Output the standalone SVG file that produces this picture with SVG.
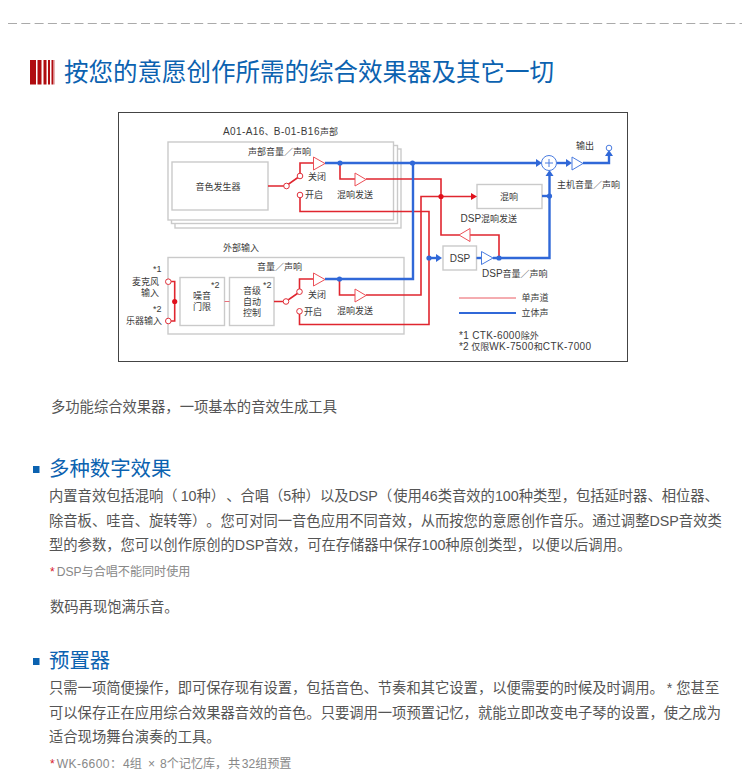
<svg xmlns="http://www.w3.org/2000/svg" width="750" height="780" viewBox="0 0 750 780">
<style>
text{font-family:"Liberation Sans","Noto Sans CJK SC",sans-serif;text-spacing-trim:space-all}
.d{font-size:9px;fill:#3a3a3a}
.d tspan{font-size:10px}
.d tspan.s{font-size:9px}
.c{text-anchor:middle}
.box{fill:#fff;stroke:#cacaca;stroke-width:1.4}
.r{fill:none;stroke:#e0262f;stroke-width:1.6}
.b{fill:none;stroke:#3068d8;stroke-width:2.4}
.tr{fill:#fff;stroke:#ec5058;stroke-width:1}
.tb{fill:#fff;stroke:#4a7ce0;stroke-width:1}
.or{fill:#fff;stroke:#e0303a;stroke-width:1}
.ob{fill:#fff;stroke:#4a7ce0;stroke-width:1}
.dr{fill:#e0101c}
.db{fill:#3068d8}
.body{font-size:14.3px;fill:#555}
.h{font-size:20.400px;fill:#0b62b0}
.note{font-size:12.100px;fill:#888}
.star{fill:#d8202c}
</style>
<line x1="8" y1="23.500" x2="742" y2="23.500" stroke="#aaa" stroke-width="1" stroke-dasharray="9 4.300"/>
<g id="title-mark" fill="#b00c10"><rect x="30" y="60" width="6" height="24.500"/><rect x="37.500" y="60" width="4" height="24.500"/><rect x="43.500" y="60" width="3" height="24.500"/><rect x="48" y="60" width="2" height="24.500"/><rect x="51.500" y="60" width="1.500" height="24.500"/><rect x="53.500" y="60" width="0.800" height="24.500"/></g>
<text x="64" y="81" font-size="24.500" fill="#0b62b0">按您的意愿创作所需的综合效果器及其它一切</text>
<rect x="118.500" y="112.500" width="509" height="249" fill="#fff" stroke="#444" stroke-width="1"/>
<text class="d" x="223" y="135"><tspan letter-spacing=".4">A01-A16</tspan>、<tspan letter-spacing=".5">B-01-B16</tspan>声部</text>
<g id="part-stack">
<rect class="box" x="175" y="149" width="226" height="79"/>
<rect class="box" x="171.500" y="145.500" width="226" height="78"/>
<rect class="box" x="168" y="142" width="225.500" height="78"/>
</g>
<text class="d" x="248" y="155">声部音量／声响</text>
<g id="tone-gen"><rect class="box" x="172" y="162" width="96" height="48"/><text class="d c" x="218" y="190">音色发生器</text></g>
<g id="external">
<rect class="box" x="168" y="257.500" width="236" height="76.500"/>
<text class="d" x="223" y="251">外部输入</text>
<text class="d" x="257" y="270">音量／声响</text>
</g>
<g id="gate"><rect class="box" x="180" y="277.500" width="44.500" height="48"/><text class="d c" x="202" y="299">噪音</text><text class="d c" x="202" y="310">门限</text><text class="d" x="211" y="288">*2</text></g>
<g id="agc"><rect class="box" x="229.500" y="277.500" width="44.500" height="48"/><text class="d c" x="252" y="294">音级</text><text class="d c" x="252" y="305">自动</text><text class="d c" x="252" y="316">控制</text><text class="d" x="263" y="288">*2</text></g>
<g id="reverb"><rect class="box" x="477" y="184.500" width="65" height="24"/><text class="d c" x="509" y="200">混响</text></g>
<g id="dsp"><rect class="box" x="443" y="246" width="33.500" height="24"/><text x="460" y="262" font-size="10" fill="#3a3a3a" class="c">DSP</text></g>
<g id="connectors">
<path class="r" d="M268 186H286L300 176V163H314"/>
<path class="r" d="M340 163V179H355"/>
<path class="r" d="M366 179H441V235H460"/>
<path class="r" d="M300 195V211.500H429V324.500H299.500V311"/>
<path class="r" d="M274 301.500H286L299.500 292V279H314"/>
<path class="r" d="M339.500 279V295H355"/>
<path class="r" d="M366 295H421V196.500H472"/>
<path class="r" d="M470 235H499V258"/>
<path class="r" d="M171 281.500H174.700V321H171"/>
<path d="M224.500 301.500H229.500" stroke="#e8707a" stroke-width="1" fill="none"/>
<path class="b" d="M325 163H536"/>
<path class="b" d="M325 279H413V163"/>
<path class="b" d="M429 258H437"/>
<path class="b" d="M476.500 258H482"/>
<path class="b" d="M493 258H549.500V172"/>
<path class="b" d="M542 196H549"/>
<path class="b" d="M557 163H568"/>
<path class="b" d="M583 163H609V155"/>
<path d="M536 159l6 4-6 4z" class="db"/>
<path d="M566 159l6 4-6 4z" class="db"/>
<path d="M471 193l6 3.500-6 3.500z" class="dr"/>
<path d="M436 254l6 4-6 4z" class="db"/>
<path d="M545.500 176l4-6 4 6z" class="db"/>
<path d="M605 156l4-6 4 6z" class="db"/>
<circle class="dr" cx="441" cy="196.500" r="2.600"/>
<circle class="dr" cx="174.700" cy="301.500" r="2.600"/>
<circle class="db" cx="340" cy="163" r="2.600"/>
<circle class="db" cx="339.500" cy="279" r="2.600"/>
<circle class="db" cx="412.500" cy="163" r="2.600"/>
<circle class="db" cx="429" cy="258" r="2.600"/>
<circle class="db" cx="499" cy="258" r="2.600"/>
<circle class="db" cx="549.500" cy="196" r="2.600"/>
<polygon class="tr" points="313.500,157 325,163.500 313.500,170"/>
<polygon class="tr" points="355,173 366,179.500 355,186"/>
<polygon class="tr" points="313.500,273 325,279.500 313.500,286"/>
<polygon class="tr" points="355,289 366,295.500 355,302"/>
<polygon class="tr" points="470,228.500 459,235 470,241.500"/>
<polygon class="tb" points="481.500,251.500 493,258 481.500,264.500"/>
<polygon class="tb" points="572,157 583,163.500 572,170"/>
<circle class="or" cx="286.500" cy="186" r="2.800"/>
<circle class="or" cx="300" cy="176" r="2.800"/>
<circle class="or" cx="300" cy="195" r="2.800"/>
<circle class="or" cx="286" cy="301.500" r="2.800"/>
<circle class="or" cx="299.500" cy="291.700" r="2.800"/>
<circle class="or" cx="299.500" cy="311.300" r="2.800"/>
<circle class="or" cx="168.300" cy="281.700" r="2.800"/>
<circle class="or" cx="168.300" cy="321" r="2.800"/>
<circle class="ob" cx="609" cy="148" r="2.800"/>
<circle class="ob" cx="549" cy="163" r="7.500"/>
<path d="M545 163h8M549 159v8" stroke="#4a7ce0" stroke-width="1"/>
<line x1="459" y1="298" x2="516" y2="298" stroke="#ea5a62" stroke-width="1"/>
<line x1="459" y1="313" x2="516" y2="313" stroke="#3068d8" stroke-width="1.800"/>
</g>
<g class="d">
<text x="308" y="180">关闭</text><text x="305" y="198">开启</text><text x="337" y="197.500">混响发送</text>
<text x="308" y="298">关闭</text><text x="304" y="315">开启</text><text x="337" y="314">混响发送</text>
<text x="460.500" y="222"><tspan>DSP</tspan>混响发送</text><text x="482" y="277"><tspan>DSP</tspan>音量／声响</text>
<text x="557" y="188">主机音量／声响</text><text x="576" y="149">输出</text>
<text x="521.500" y="301">单声道</text><text x="521.500" y="316">立体声</text>
<text x="459" y="339"><tspan letter-spacing=".35">*1 CTK-6000</tspan>除外</text><text x="459" y="350"><tspan>*2 </tspan>仅限<tspan letter-spacing=".4">WK-7500</tspan>和<tspan letter-spacing=".4">CTK-7000</tspan></text>
<text x="153" y="272">*1</text><text x="132" y="285">麦克风</text><text x="141" y="296">输入</text>
<text x="153" y="312">*2</text><text x="126" y="324">乐器输入</text>
</g>
<text class="body" x="51" y="412">多功能综合效果器，一项基本的音效生成工具</text>
<rect x="33" y="466" width="6.500" height="7" fill="#0b62b0"/>
<text class="h" x="49" y="476">多种数字效果</text>
<text class="body" x="49" y="501">内置音效包括混响（<tspan dx="3">10种）</tspan><tspan dx="1">、合唱（5种）以及DSP（</tspan><tspan dx="1">使用46类音效的100种类型，包括延时器、相位器、</tspan></text>
<text class="body" x="49" y="526">除音板、哇音、旋转等）。您可对同一音色应用不同音效，从而按您的意愿创作音乐。通过调整DSP音效类</text>
<text class="body" x="49" y="550">型的参数，您可以创作原创的DSP音效，可在存储器中保存100种原创类型，以便以后调用。</text>
<text class="note" x="50" y="576"><tspan class="star">*</tspan><tspan x="56.700">DSP与合唱不能同时使用</tspan></text>
<text class="body" x="50" y="612">数码再现饱满乐音。</text>
<rect x="33" y="658" width="6.500" height="7" fill="#0b62b0"/>
<text class="h" x="49" y="668">预置器</text>
<text class="body" x="49" y="693">只需一项简便操作，即可保存现有设置，包括音色、节奏和其它设置，以便需要的时候及时调用。<tspan dx="3">* 您甚至</tspan></text>
<text class="body" x="49" y="718">可以保存正在应用综合效果器音效的音色。只要调用一项预置记忆，就能立即改变电子琴的设置，使之成为</text>
<text class="body" x="49" y="742">适合现场舞台演奏的工具。</text>
<text class="note" x="50" y="768"><tspan class="star">*</tspan><tspan x="56.700" letter-spacing=".4">WK-6600</tspan>：<tspan x="123">4组</tspan><tspan x="148">×</tspan><tspan x="160">8个记忆库，</tspan><tspan x="228">共</tspan><tspan x="241.700">32组预置</tspan></text>
</svg>
